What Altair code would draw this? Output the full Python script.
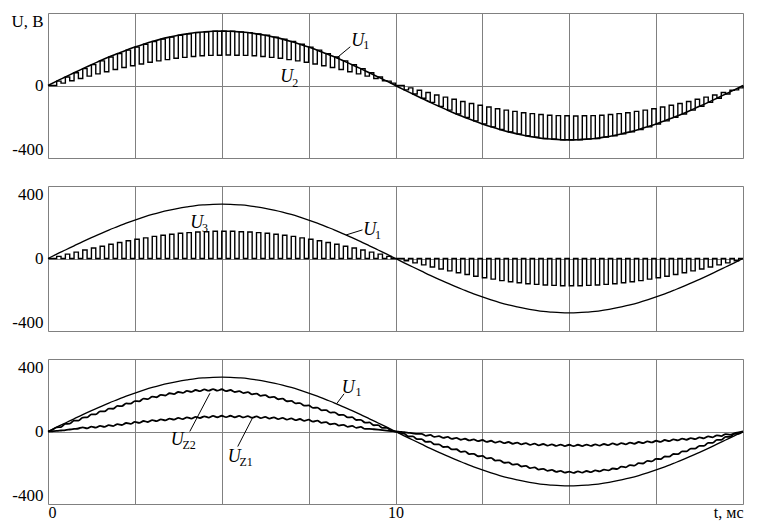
import altair as alt
import pandas as pd

T_STEP = 0.25          # ms between read samples
N = 81
t_ms = [round(i * T_STEP, 3) for i in range(N)]

u1 = [0, 24, 47, 70, 93, 115, 136, 157, 176, 195, 212, 228, 243, 256, 267, 277, 285, 292, 296, 299,
      300, 299, 296, 292, 285, 277, 267, 256, 243, 228, 212, 195, 176, 157, 136, 115, 93, 70, 47, 24, 0,
      -24, -47, -70, -93, -115, -136, -157, -176, -195, -212, -228, -243, -256, -267, -277, -285, -292, -296, -299,
      -300, -299, -296, -292, -285, -277, -267, -256, -243, -228, -212, -195, -176, -157, -136, -115, -93, -70, -47, -24, 0]

# second level of the pulsed voltage U2 (top panel)
u2_low = [0, 13, 26, 39, 52, 64, 76, 88, 99, 109, 119, 128, 136, 143, 150, 155, 160, 164, 166, 167,
          168, 167, 166, 164, 160, 155, 150, 143, 136, 128, 119, 109, 99, 88, 76, 64, 52, 39, 26, 13, 0,
          -13, -26, -39, -52, -64, -76, -88, -99, -109, -119, -128, -136, -143, -150, -155, -160, -164, -166, -167,
          -168, -167, -166, -164, -160, -155, -150, -143, -136, -128, -119, -109, -99, -88, -76, -64, -52, -39, -26, -13, 0]

# pulse height of U3 (middle panel), pulses go between this and 0
u3_top = [0, 12, 24, 35, 47, 58, 68, 79, 88, 98, 106, 114, 122, 128, 134, 139, 143, 146, 148, 150,
          150, 150, 148, 146, 143, 139, 134, 128, 122, 114, 106, 98, 88, 79, 68, 58, 47, 35, 24, 12, 0,
          -12, -24, -35, -47, -58, -68, -79, -88, -98, -106, -114, -122, -128, -134, -139, -143, -146, -148, -150,
          -150, -150, -148, -146, -143, -139, -134, -128, -122, -114, -106, -98, -88, -79, -68, -58, -47, -35, -24, -12, 0]
u3_low = [0] * N

# filtered voltages (bottom panel)
uz2 = [0, 19, 38, 56, 73, 91, 107, 122, 137, 151, 164, 177, 188, 198, 207, 214, 220, 225, 228, 230,
       229, 225, 219, 213, 205, 197, 187, 177, 165, 153, 140, 128, 114, 102, 88, 75, 60, 46, 31, 16, 0,
       -16, -31, -46, -60, -75, -88, -102, -114, -127, -138, -150, -163, -174, -184, -194, -202, -210, -216, -221,
       -225, -224, -222, -219, -214, -208, -198, -189, -179, -166, -155, -142, -128, -114, -98, -83, -67, -50, -34, -17, 0]
uz1 = [0, 3, 8, 14, 19, 23, 27, 31, 37, 43, 49, 54, 59, 63, 67, 71, 74, 77, 80, 82,
       83, 83, 82, 81, 79, 77, 74, 71, 68, 65, 61, 56, 48, 40, 33, 27, 21, 15, 10, 5, 0,
       -4, -10, -17, -23, -29, -34, -39, -44, -47, -51, -55, -59, -62, -65, -68, -71, -73, -75, -76,
       -77, -77, -76, -75, -73, -70, -68, -65, -62, -58, -55, -51, -47, -43, -40, -36, -31, -25, -18, -10, 0]

PWM_HALF = 0.125       # ms, half of the 0.25 ms carrier period
RIPPLE = 4             # V, ripple amplitude on the filtered voltages

for arr in (u1, u2_low, u3_top, uz2, uz1):
    assert len(arr) == N

x_grid = [0, 2.5, 5, 7.5, 10, 12.5, 15, 17.5, 20]
y_grid = [-400, -300, -200, -100, 0, 100, 200, 300, 400]

FONT = "Liberation Serif, Times New Roman, serif"
GRID = "#808080"


def pwm_frame(hi, lo):
    rows = []
    for k in range(N - 1):
        rows.append({"t": t_ms[k], "v": hi[k]})
        rows.append({"t": t_ms[k] + PWM_HALF, "v": lo[k]})
    rows.append({"t": t_ms[-1], "v": hi[-1]})
    return pd.DataFrame(rows)


def ripple_frame(v):
    rows = []
    for k in range(N - 1):
        a = RIPPLE if abs(v[k]) > 15 else 0
        rows.append({"t": t_ms[k], "v": v[k] + a})
        rows.append({"t": t_ms[k] + PWM_HALF, "v": (v[k] + v[k + 1]) / 2 - a})
    rows.append({"t": t_ms[-1], "v": v[-1]})
    return pd.DataFrame(rows)


u1_df = pd.DataFrame({"t": t_ms, "v": u1})


def axes(bottom, top_label):
    y_expr = ("datum.value == 400 ? '%s' : datum.value == 0 ? '0' : "
              "datum.value == -400 ? '-400' : ''" % top_label)
    yax = alt.Axis(values=y_grid, labelExpr=y_expr, ticks=False, tickSize=0, domain=False, grid=True,
                   gridColor=GRID, gridWidth=1, labelFlush=True, labelFont=FONT, labelFontSize=17,
                   labelColor="black", labelPadding=5, minExtent=0, title=None)
    if bottom:
        xax = alt.Axis(values=x_grid,
                       labelExpr="datum.value == 0 ? '0' : datum.value == 10 ? '10' : "
                                 "datum.value == 20 ? 't, мс' : ''",
                       ticks=False, tickSize=0, domain=False, grid=True, gridColor=GRID, gridWidth=1,
                       labelFlush=True, labelFont=FONT, labelFontSize=16, labelColor="black",
                       labelPadding=0, labelAngle=0, minExtent=0, title=None)
    else:
        xax = alt.Axis(values=x_grid, labels=False, ticks=False, tickSize=0, domain=False, grid=True,
                       gridColor=GRID, gridWidth=1, labelPadding=0, minExtent=0, maxExtent=0,
                       title=None)
    x = alt.X("t:Q", scale=alt.Scale(domain=[0, 20], nice=False, zero=False), axis=xax)
    y = alt.Y("v:Q", scale=alt.Scale(domain=[-400, 400], nice=False), axis=yax)
    return x, y


def plain_xy():
    return (alt.X("t:Q", scale=alt.Scale(domain=[0, 20], nice=False, zero=False)),
            alt.Y("v:Q", scale=alt.Scale(domain=[-400, 400], nice=False)))


def labels(main_rows, sub_rows, lead_rows):
    xs, ys = plain_xy()
    m = alt.Chart(pd.DataFrame(main_rows, columns=["t", "v", "txt"])).mark_text(
        font=FONT, fontStyle="italic", fontSize=18, align="left", baseline="alphabetic",
        color="black").encode(x=xs, y=ys, text="txt:N")
    s = alt.Chart(pd.DataFrame(sub_rows, columns=["t", "v", "txt"])).mark_text(
        font=FONT, fontSize=12, align="left", baseline="alphabetic",
        color="black").encode(x=xs, y=ys, text="txt:N")
    layers = [m, s]
    if lead_rows:
        l = alt.Chart(pd.DataFrame(lead_rows, columns=["t", "v", "t2", "v2"])).mark_rule(
            color="black", strokeWidth=1).encode(x=xs, y=ys, x2="t2:Q", y2="v2:Q")
        layers.append(l)
    return layers


W, H = 695, 145

# ---- panel 1 ----
x1, y1 = axes(False, "U, B")
xs, ys = plain_xy()
p1 = alt.layer(
    alt.Chart(pwm_frame(u1, u2_low)).mark_line(color="black", strokeWidth=1.4,
                                               interpolate="step-after").encode(x=x1, y=y1),
    alt.Chart(u1_df).mark_line(color="black", strokeWidth=1.6,
                               interpolate="monotone").encode(x=xs, y=ys),
    *labels([(8.73, 218, "U"), (6.68, 19, "U")],
            [(9.07, 200, "1"), (7.03, -8, "2")],
            [(8.31, 152, 8.70, 214)]),
).properties(width=W, height=H)

# ---- panel 2 ----
x2, y2 = axes(False, "400")
p2 = alt.layer(
    alt.Chart(pwm_frame(u3_top, u3_low)).mark_line(color="black", strokeWidth=1.4,
                                                   interpolate="step-after").encode(x=x2, y=y2),
    alt.Chart(u1_df).mark_line(color="black", strokeWidth=1.3,
                               interpolate="monotone").encode(x=xs, y=ys),
    *labels([(4.09, 168, "U"), (9.07, 130, "U")],
            [(4.43, 146, "3"), (9.41, 108, "1")],
            [(8.58, 130, 9.05, 158)]),
).properties(width=W, height=H)

# ---- panel 3 ----
x3, y3 = axes(True, "400")
p3 = alt.layer(
    alt.Chart(u1_df).mark_line(color="black", strokeWidth=1.3,
                               interpolate="monotone").encode(x=x3, y=y3),
    alt.Chart(ripple_frame(uz2)).mark_line(color="black", strokeWidth=1.8,
                                          interpolate="monotone").encode(x=xs, y=ys),
    alt.Chart(ripple_frame(uz1)).mark_line(color="black", strokeWidth=1.8,
                                          interpolate="monotone").encode(x=xs, y=ys),
    *labels([(8.45, 210, "U"), (3.53, -72, "U"), (5.17, -166, "U")],
            [(8.85, 195, "1"), (3.87, -99, "Z2"), (5.51, -193, "Z1")],
            [(8.31, 154, 8.52, 208), (4.08, 0, 4.66, 211), (5.46, -83, 5.88, 73)]),
).properties(width=W, height=H)

chart = alt.vconcat(p1, p2, p3, spacing=25).properties(
    padding={"left": 2, "top": 3, "right": 0, "bottom": 0}
).configure_view(stroke="black", strokeWidth=1).configure_axis(
    labelFont=FONT, labelColor="black"
).configure(background="white")

chart.save("out.html", embed_options={"renderer": "svg", "actions": False})
